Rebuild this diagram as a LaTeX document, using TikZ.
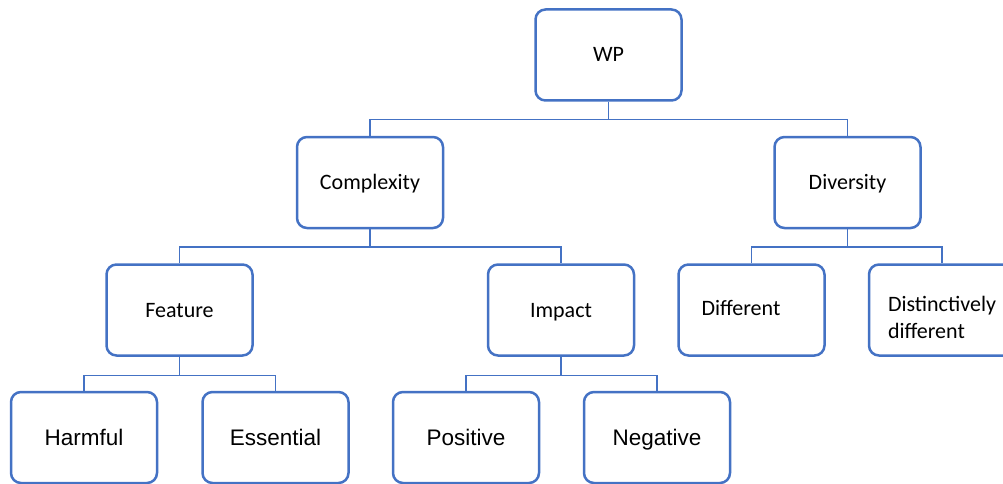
\documentclass[tikz,border=0pt]{standalone}
\usepackage{fontspec}
\setmainfont{Carlito}
\newfontfamily\arialfont{Liberation Sans}
\usepackage{tikz}
\definecolor{boxblue}{HTML}{4472C4}

\begin{document}
\begin{tikzpicture}[node distance=127.5pt, line width=1.5pt]
  \tikzstyle{box}=[rectangle, rounded corners=10pt, draw=boxblue,
    line width=2.5pt, minimum width=146pt, minimum height=91pt,
    inner sep=0pt, text height=14pt, text depth=0pt,
    font=\fontsize{22pt}{27pt}\selectfont]
  \tikzstyle{leaf}=[box, text height=15pt,
    font=\arialfont\fontsize{22.5pt}{27pt}\selectfont]
  \tikzstyle{link}=[draw=boxblue, line width=1.5pt]
  \useasboundingbox (0,0) rectangle (1003pt,-484pt);
  \node[box] (WP) at (608.5pt,-55pt) {WP};
  \node[box] (Complexity) [below of=WP, xshift=-238.5pt] {Complexity};
  \node[box] (Diversity)  [below of=WP, xshift=239pt]    {Diversity};
  \node[box] (Feature)    [below of=Complexity, xshift=-190.5pt] {Feature};
  \node[box] (Impact)     [below of=Complexity, xshift=191pt]    {Impact};
  \node[box, text width=100pt, align=left, text depth=4pt] (Different)
    [below of=Diversity, xshift=-96pt] {Different};
  \node[box, text width=108pt, align=left, text height=13pt, text depth=11pt] (Distinct)
    [below of=Diversity, xshift=94.5pt] {Distinctively\\different};
  \node[leaf] (Harmful)   [below of=Feature, xshift=-95.5pt] {Harmful};
  \node[leaf] (Essential) [below of=Feature, xshift=96pt]    {Essential};
  \node[leaf] (Positive)  [below of=Impact, xshift=-95pt]    {Positive};
  \node[leaf] (Negative)  [below of=Impact, xshift=96pt]     {Negative};
  \draw[link]
  (WP.south) -- ++(0,-18pt) -| (Complexity.north)
  (WP.south) -- ++(0,-18pt) -| (Diversity.north)
  (Complexity.south) -- ++(0,-17.5pt) -| (Feature.north)
  (Complexity.south) -- ++(0,-17.5pt) -| (Impact.north)
  (Diversity.south) -- ++(0,-17.5pt) -| (Different.north)
  (Diversity.south) -- ++(0,-17.5pt) -| (Distinct.north)
  (Feature.south) -- ++(0,-18.5pt) -| (Harmful.north)
  (Feature.south) -- ++(0,-18.5pt) -| (Essential.north)
  (Impact.south) -- ++(0,-18.5pt) -| (Positive.north)
  (Impact.south) -- ++(0,-18.5pt) -| (Negative.north);
\end{tikzpicture}
\end{document}
